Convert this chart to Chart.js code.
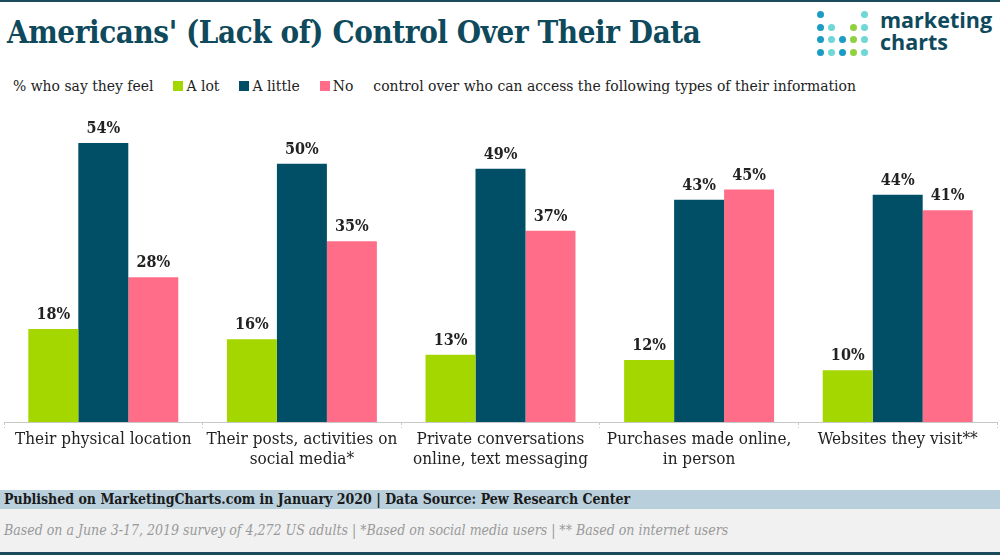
<!DOCTYPE html>
<html>
<head>
<meta charset="utf-8">
<script src="https://cdn.jsdelivr.net/npm/chart.js@4"></script>
<style>
  body { margin:0; width:1000px; height:555px; overflow:hidden; background:#fff; font-family:"DejaVu Serif Condensed","DejaVu Serif",serif; position:relative; }
  #topline { position:absolute; left:0; top:0; width:1000px; height:2px; background:#1b4b5a; }
  #title { position:absolute; left:7px; top:14px; font-size:31px; font-weight:bold; color:#0e4a5c; letter-spacing:-0.4px; white-space:nowrap; }
  #legend { position:absolute; left:13px; top:77px; font-size:15.5px; color:#222; white-space:nowrap; }
  #legend span.sw { display:inline-block; width:10px; height:10px; margin-right:3px; }
  #legend span.it { margin-right:20px; }
  #wrap { position:absolute; left:0; top:100px; width:1000px; height:390px; }
  #pub { position:absolute; left:0; top:490px; width:1000px; height:19px; background:#b9cfdc; font-size:14px; font-weight:bold; color:#1a1a1a; line-height:19px; text-indent:4px; }
  #note { position:absolute; left:0; top:509px; width:1000px; height:43px; background:#f1f1f1; font-size:14px; font-style:italic; color:#999; line-height:43px; text-indent:4px; }
  #botline { position:absolute; left:0; top:552px; width:1000px; height:3px; background:#1b4b5a; }
  .dot { position:absolute; width:7px; height:7px; border-radius:50%; }
  #logo { position:absolute; left:880px; top:9px; font-family:"Open Sans",sans-serif; font-weight:bold; font-size:21.5px; line-height:22px; color:#0e4a5c; }
</style>
</head>
<body>
<div id="topline"></div>
<div id="title">Americans' (Lack of) Control Over Their Data</div>
<div id="logo">marketing<br>charts</div>
<div id="legend"></div>
<div id="wrap"><canvas id="chart"></canvas></div>
<div id="pub">Published on MarketingCharts.com in January 2020 | Data Source: Pew Research Center</div>
<div id="note">Based on a June 3-17, 2019 survey of 4,272 US adults | *Based on social media users | ** Based on internet users</div>
<div id="botline"></div>
<script>
const categories = [
  "Their physical location",
  ["Their posts, activities on", "social media*"],
  ["Private conversations", "online, text messaging"],
  ["Purchases made online,", "in person"],
  "Websites they visit**"
];
const seriesNames = ["A lot", "A little", "No"];
const aLot = [18, 16, 13, 12, 10];
const aLittle = [54, 50, 49, 43, 44];
const none = [28, 35, 37, 45, 41];
const colors = ["#a4d600", "#004f66", "#ff6d89"];

// logo dots
const dotBlue = "#1a9cc4", dotTeal = "#6fd8d6", dotGreen = "#8fd13f";
const dotRows = [
  [dotBlue, null, null, null, dotTeal],
  [dotBlue, dotTeal, null, dotGreen, dotTeal],
  [dotBlue, dotTeal, dotBlue, dotGreen, dotTeal],
  [dotBlue, dotTeal, dotBlue, dotGreen, dotTeal]
];
dotRows.forEach(function(row, r) {
  row.forEach(function(c, i) {
    if (!c) return;
    let d = document.createElement("div");
    d.className = "dot";
    d.style.left = (817 + i * 11) + "px";
    d.style.top = (11 + r * 12.5) + "px";
    d.style.background = c;
    document.body.appendChild(d);
  });
});

// legend line
let legend = document.getElementById("legend");
let html = "<span class='it'>% who say they feel</span>";
seriesNames.forEach(function(n, i) {
  html += "<span class='sw' style='background:" + colors[i] + "'></span><span class='it'>" + n + "</span>";
});
html += "<span>control over who can access the following types of their information</span>";
legend.innerHTML = html;

const valueLabels = {
  id: "valueLabels",
  afterDatasetsDraw(chart) {
    const ctx = chart.ctx;
    ctx.save();
    ctx.font = "bold 16px 'DejaVu Serif Condensed', 'DejaVu Serif', serif";
    ctx.fillStyle = "#222";
    ctx.textAlign = "center";
    ctx.textBaseline = "alphabetic";
    chart.data.datasets.forEach(function(ds, i) {
      chart.getDatasetMeta(i).data.forEach(function(bar, j) {
        ctx.fillText(ds.data[j] + "%", bar.x, bar.y - 10);
      });
    });
    ctx.restore();
  }
};

new Chart(document.getElementById("chart"), {
  type: "bar",
  data: {
    labels: categories,
    datasets: [
      { label: seriesNames[0], data: aLot, backgroundColor: colors[0] },
      { label: seriesNames[1], data: aLittle, backgroundColor: colors[1] },
      { label: seriesNames[2], data: none, backgroundColor: colors[2] }
    ]
  },
  options: {
    responsive: true,
    maintainAspectRatio: false,
    animation: false,
    layout: { padding: { top: 12, left: 4, right: 3, bottom: 0 } },
    datasets: { bar: { categoryPercentage: 0.755, barPercentage: 1 } },
    plugins: { legend: { display: false }, tooltip: { enabled: false } },
    scales: {
      x: {
        grid: { offset: true, drawOnChartArea: false, tickLength: 6, color: "#c8c8c8", tickBorderDash: [2, 2] },
        border: { color: "#c8c8c8", dash: [2, 2] },
        ticks: { color: "#222", font: { family: "'DejaVu Serif Condensed', 'DejaVu Serif', serif", size: 17 }, padding: 1, maxRotation: 0, autoSkip: false },
        afterFit: function(scale) { scale.height = 68; }
      },
      y: { display: false, min: 0, max: 60 }
    }
  },
  plugins: [valueLabels]
});
</script>
</body>
</html>
